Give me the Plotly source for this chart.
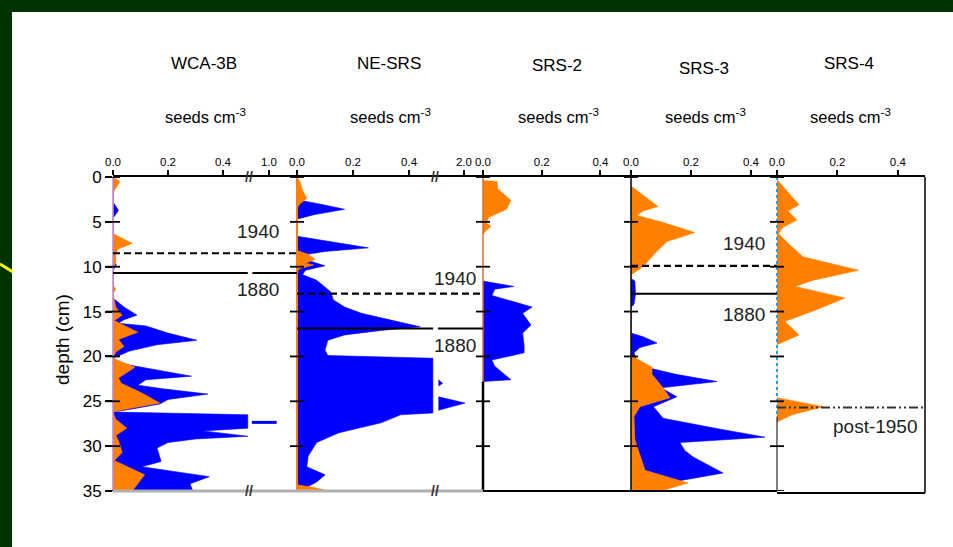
import plotly.graph_objects as go

W, H = 953, 547

# ---------------- data (depth in cm, value in seeds cm^-3, axis units) ----------------
depth_ticks = [0, 5, 10, 15, 20, 25, 30, 35]

titles = ["WCA-3B", "NE-SRS", "SRS-2", "SRS-3", "SRS-4"]

wca_blue_depth = [0, 2.8, 3.7, 4.6, 9.2, 9.8, 10.4, 13.5, 14.5, 15.4, 15.9, 16.3, 16.6, 17.4, 18.2, 18.7, 19.4,
                  20.2, 20.8, 21.4, 22.2, 22.6, 23.2, 23.6, 24.2, 24.8, 25.3, 25.8, 26.2, 26.5, 28.0, 28.3,
                  28.9, 29.2, 29.6, 30.2, 31.7, 32.3, 32.7, 33.4, 34.2, 35]
wca_blue_val = [0, 0, 0.02, 0, 0, 0.012, 0, 0, 0.04, 0.087, 0.04, 0.02, 0.12, 0.2, 0.305, 0.16, 0.06,
                0.0, 0.03, 0.14, 0.285, 0.12, 0.09, 0.18, 0.345, 0.2, 0.17, 0.08, 0.0, 0.49, 0.49, 0.327,
                0.49, 0.3, 0.2, 0.16, 0.175, 0.105, 0.2, 0.35, 0.28, 0.29]
wca_orange_depth = [0, 0.5, 1.5, 2.0, 6.3, 7.4, 8.0, 8.5, 9.6, 10.2, 12.0, 12.5, 13.0, 14.5, 15.4, 16.0, 17.3,
                    18.1, 18.9, 19.5, 20.2, 21.2, 22.4, 23.0, 24.0, 25.2, 25.8, 26.2, 27.0, 28.0, 28.8, 29.4,
                    30.7, 31.6, 33.2, 34.9, 35]
wca_orange_val = [0, 0.025, 0.005, 0, 0, 0.07, 0.02, 0.01, 0.01, 0, 0, 0.01, 0, 0.01, 0.033, 0.005, 0.09,
                  0.02, 0.04, 0.01, 0, 0.08, 0.02, 0.03, 0.1, 0.17, 0.06, 0, 0.01, 0.05, 0.01, 0.02,
                  0.033, 0.005, 0.115, 0.07, 0.07]
# part of the WCA-3B profile drawn beyond the axis break
wca_beyond_depth = [27.35, 27.35]
wca_beyond_val = [0.505, 0.595]

ne_blue_depth = [0, 1.5, 2.6, 3.0, 3.6, 4.2, 4.7, 6.6, 7.0, 7.9, 8.3, 8.7, 9.3, 9.9, 10.4, 10.9, 11.5, 12.8,
                 13.7, 14.5, 15.2, 15.9, 16.7, 17.1, 17.6, 18.2, 19.3, 19.9, 20.2, 26.3, 26.5, 27.4, 28.5,
                 29.6, 31.1, 32.3, 33.2, 34.0, 34.5, 35]
ne_blue_val = [0, 0.005, 0.01, 0.08, 0.17, 0.06, 0.0, 0, 0.08, 0.255, 0.1, 0.02, 0.04, 0.1, 0.03, 0.02, 0.07, 0.12,
               0.13, 0.17, 0.23, 0.33, 0.44, 0.3, 0.17, 0.11, 0.1, 0.11, 0.485, 0.485, 0.37, 0.3, 0.15,
               0.07, 0.04, 0.035, 0.1, 0.07, 0.04, 0.02]
ne_orange_depth = [0, 0.5, 1.5, 2.4, 3.0, 3.5, 8.2, 8.6, 9.2, 9.6, 9.8, 10.2, 10.6, 34.3, 34.6, 34.9, 35]
ne_orange_val = [0, 0.01, 0.02, 0.035, 0.01, 0, 0, 0.04, 0.065, 0.03, 0.06, 0.01, 0, 0, 0.06, 0.1, 0.1]
# NE-SRS parts beyond the axis break (closed outlines starting at the break)
ne_beyond1_depth = [22.6, 23.0, 23.3]
ne_beyond1_val = [0.505, 0.52, 0.505]
ne_beyond2_depth = [24.5, 25.2, 26.0]
ne_beyond2_val = [0.505, 0.6, 0.505]

srs2_orange_depth = [0.4, 0.5, 1.3, 2.6, 3.6, 4.5, 5.1, 5.5, 6.0, 6.4]
srs2_orange_val = [0, 0.048, 0.05, 0.095, 0.08, 0.02, 0.01, 0.027, 0.01, 0]
srs2_blue_depth = [11.6, 12.2, 12.5, 13.2, 14.5, 15.2, 16.5, 17.4, 18.8, 19.6, 20.4, 21.1, 22.6, 22.8]
srs2_blue_val = [0, 0.105, 0.04, 0.03, 0.167, 0.135, 0.163, 0.135, 0.14, 0.14, 0.03, 0.04, 0.095, 0]

srs3_orange_depth = [1.0, 2.0, 3.3, 3.8, 4.3, 5.0, 6.2, 7.2, 8.5, 10.0, 10.9, 19.9, 21.2, 22.0, 23.2, 24.6,
                     25.6, 26.7, 29.3, 31.0, 32.7, 34.1, 34.5, 35]
srs3_orange_val = [0, 0.04, 0.09, 0.04, 0.02, 0.1, 0.213, 0.12, 0.08, 0.04, 0, 0, 0.07, 0.07, 0.1, 0.13,
                   0.03, 0.01, 0.013, 0.03, 0.047, 0.19, 0.15, 0.1]
srs3_blue_depth = [11.3, 11.6, 13.0, 14.2, 14.5, 17.4, 17.8, 18.5, 19.0, 19.6, 20.5, 21.2, 22.0, 22.8, 23.5,
                   24.5, 25.6, 26.9, 28.0, 29.0, 29.6, 30.5, 31.2, 33.0, 34.1, 35]
srs3_blue_val = [0, 0.013, 0.015, 0.01, 0, 0, 0.04, 0.087, 0.03, 0.01, 0.02, 0.05, 0.15, 0.287, 0.1,
                 0.153, 0.075, 0.107, 0.28, 0.447, 0.163, 0.18, 0.207, 0.307, 0.12, 0.1]

srs4_orange_depth = [0.3, 1.5, 3.1, 3.8, 4.8, 5.6, 6.3, 7.5, 8.9, 10.4, 11.5, 12.2, 13.5, 14.8, 16.1, 17.6,
                     18.7, 24.6, 25.6, 26.5, 27.1, 27.3]
srs4_orange_val = [0, 0.03, 0.073, 0.036, 0.066, 0.02, 0.005, 0.04, 0.086, 0.27, 0.12, 0.06, 0.225, 0.13,
                   0.026, 0.073, 0, 0, 0.153, 0.05, 0.01, 0]

# horizon depths
wca_1940, wca_1880 = 8.5, 10.7
ne_1940, ne_1880 = 13.0, 16.9
srs3_1940, srs3_1880 = 9.9, 13.0
srs4_post1950 = 25.7

# axis set-up per panel (ticks; breaks for the first two panels)
x_ranges = [[0, 0.669], [0, 0.664], [0, 0.504], [0, 0.487], [0, 0.49]]
x_tickvals = [[0, 0.2, 0.4, 0.567], [0, 0.2, 0.4, 0.596], [0, 0.2, 0.4], [0, 0.2, 0.4], [0, 0.2, 0.4]]
x_ticktext = [["0.0", "0.2", "0.4", "1.0"], ["0.0", "0.2", "0.4", "2.0"],
              ["0.0", "0.2", "0.4"], ["0.0", "0.2", "0.4"], ["0.0", "0.2", "0.4"]]
breaks = [0.495, 0.494, None, None, None]

# ---------------- layout geometry (pixels) ----------------
def px(x):
    return x / W

def py(y):
    return 1 - y / H

lefts = [113, 297, 483, 631, 777]
rights = [297, 483, 631, 777, 925]
top_px, bot_px = 177, 491

BLUE = "#0000ff"
ORANGE = "#ff8000"
FONT = "Liberation Sans, Arial, sans-serif"

axn = ["x", "x2", "x3", "x4", "x5"]
fig = go.Figure()


def area(xk, depth, val, color):
    fig.add_trace(go.Scatter(x=val, y=depth, xaxis=xk, yaxis="y", mode="lines", fill="tozerox",
                             fillcolor=color, line=dict(color=color, width=0.6),
                             hoverinfo="skip", showlegend=False))


def outline(xk, depth, val, color):
    fig.add_trace(go.Scatter(x=val, y=depth, xaxis=xk, yaxis="y", mode="lines", fill="toself",
                             fillcolor=color, line=dict(color=color, width=0.6),
                             hoverinfo="skip", showlegend=False))


area("x", wca_blue_depth, wca_blue_val, BLUE)
area("x", wca_orange_depth, wca_orange_val, ORANGE)
fig.add_trace(go.Scatter(x=wca_beyond_val, y=wca_beyond_depth, xaxis="x", yaxis="y", mode="lines",
                         line=dict(color=BLUE, width=3), hoverinfo="skip", showlegend=False))
area("x2", ne_blue_depth, ne_blue_val, BLUE)
outline("x2", ne_beyond1_depth, ne_beyond1_val, BLUE)
outline("x2", ne_beyond2_depth, ne_beyond2_val, BLUE)
area("x2", ne_orange_depth, ne_orange_val, ORANGE)
area("x3", srs2_orange_depth, srs2_orange_val, ORANGE)
area("x3", srs2_blue_depth, srs2_blue_val, BLUE)
area("x4", srs3_blue_depth, srs3_blue_val, BLUE)
area("x4", srs3_orange_depth, srs3_orange_val, ORANGE)
area("x5", srs4_orange_depth, srs4_orange_val, ORANGE)

layout = dict(
    width=W, height=H, margin=dict(l=0, r=0, t=0, b=0),
    paper_bgcolor="#003300", plot_bgcolor="white", showlegend=False,
    font=dict(family=FONT, color="black"),
    yaxis=dict(domain=[py(bot_px), py(top_px)], range=[35, 0], anchor="x", tickvals=depth_ticks,
               ticks="outside", ticklen=7, tickwidth=1.5, tickcolor="black",
               tickfont=dict(size=17, family=FONT), showgrid=False, zeroline=False, showline=False,
               automargin=False, fixedrange=True),
)
for i in range(5):
    key = "xaxis" if i == 0 else f"xaxis{i + 1}"
    layout[key] = dict(domain=[px(lefts[i]), px(rights[i])], range=x_ranges[i], anchor="y", side="top",
                       tickvals=x_tickvals[i], ticktext=x_ticktext[i], ticks="outside", ticklen=5,
                       tickwidth=1.5, tickcolor="black", tickfont=dict(size=11.5, family=FONT),
                       showline=True, linecolor="black", linewidth=1.5, showgrid=False,
                       zeroline=False, automargin=False, fixedrange=True)
fig.update_layout(**layout)

shapes = []
# white slide area and yellow connector
shapes.append(dict(type="rect", xref="paper", yref="paper", x0=px(12), x1=1, y0=0, y1=py(12),
                   fillcolor="white", line=dict(width=0), layer="below"))
shapes.append(dict(type="line", xref="paper", yref="paper", x0=0, y0=py(264), x1=px(13), y1=py(272),
                   line=dict(color="#ffff00", width=3)))

# left axis lines of each panel
left_styles = [
    [(0, 35, "#c080d0", 1.5, "solid")],
    [(0, 35, ORANGE, 2, "solid")],
    [(0, 22.8, "#d07030", 1.5, "solid"), (22.8, 35, "black", 2.5, "solid")],
    [(0, 35, "black", 1.5, "solid")],
    [(0, 26.7, "#20a0e0", 2, "dot"), (26.7, 35, "black", 1, "solid")],
]
for i, segs in enumerate(left_styles):
    for d0, d1, col, wd, dash in segs:
        shapes.append(dict(type="line", xref="paper", yref="y", x0=px(lefts[i]), x1=px(lefts[i]),
                           y0=d0, y1=d1, line=dict(color=col, width=wd, dash=dash), layer="above"))
    for t in depth_ticks:
        shapes.append(dict(type="line", xref="paper", yref="y", x0=px(lefts[i] - 7), x1=px(lefts[i] + 7),
                           y0=t, y1=t, line=dict(color="black", width=1.8), layer="above"))

# bottom frame lines
shapes.append(dict(type="line", xref="paper", yref="paper", x0=px(113), x1=px(483), y0=py(bot_px),
                   y1=py(bot_px), line=dict(color="#b0b0b0", width=3)))
shapes.append(dict(type="line", xref="paper", yref="paper", x0=px(483), x1=px(777), y0=py(bot_px),
                   y1=py(bot_px), line=dict(color="black", width=2)))
shapes.append(dict(type="line", xref="paper", yref="paper", x0=px(777), x1=px(925), y0=py(bot_px + 2),
                   y1=py(bot_px + 2), line=dict(color="black", width=2)))
shapes.append(dict(type="line", xref="paper", yref="paper", x0=px(925), x1=px(925), y0=py(bot_px + 2),
                   y1=py(top_px), line=dict(color="black", width=1.5)))

# horizon lines
dash_style = "7px,4px"
shapes.append(dict(type="line", xref="x", yref="y", x0=0, x1=x_ranges[0][1], y0=wca_1940, y1=wca_1940,
                   line=dict(color="black", width=2.2, dash=dash_style)))
shapes.append(dict(type="line", xref="x", yref="y", x0=0, x1=0.49, y0=wca_1880, y1=wca_1880,
                   line=dict(color="black", width=2)))
shapes.append(dict(type="line", xref="x", yref="y", x0=0.507, x1=x_ranges[0][1], y0=wca_1880, y1=wca_1880,
                   line=dict(color="black", width=2)))
shapes.append(dict(type="line", xref="x2", yref="y", x0=0, x1=x_ranges[1][1], y0=ne_1940, y1=ne_1940,
                   line=dict(color="black", width=2.2, dash=dash_style)))
shapes.append(dict(type="line", xref="x2", yref="y", x0=0, x1=0.486, y0=ne_1880, y1=ne_1880,
                   line=dict(color="black", width=2)))
shapes.append(dict(type="line", xref="x2", yref="y", x0=0.503, x1=x_ranges[1][1], y0=ne_1880, y1=ne_1880,
                   line=dict(color="black", width=2)))
shapes.append(dict(type="line", xref="x4", yref="y", x0=0, x1=x_ranges[3][1], y0=srs3_1940, y1=srs3_1940,
                   line=dict(color="black", width=2.2, dash=dash_style)))
shapes.append(dict(type="line", xref="x4", yref="y", x0=0, x1=x_ranges[3][1], y0=srs3_1880, y1=srs3_1880,
                   line=dict(color="black", width=2)))
shapes.append(dict(type="line", xref="x5", yref="y", x0=0, x1=x_ranges[4][1], y0=srs4_post1950,
                   y1=srs4_post1950, line=dict(color="#333333", width=2, dash="9px,3px,2px,3px,2px,3px")))
fig.update_layout(shapes=shapes)

ann = []
centers = [204, 389, 557, 704, 849]
title_y = [63, 63, 65, 68, 63]
for i, t in enumerate(titles):
    ann.append(dict(text=t, x=px(centers[i]), y=py(title_y[i]), xref="paper", yref="paper",
                    showarrow=False, font=dict(size=17, family=FONT), xanchor="center", yanchor="middle"))
    ann.append(dict(text="seeds cm<sup>-3</sup>", x=px(centers[i] + 1), y=py(116), xref="paper",
                    yref="paper", showarrow=False, font=dict(size=16.5, family=FONT),
                    xanchor="center", yanchor="middle"))

date_labels = [("1940", 258, 231), ("1880", 258, 289), ("1940", 455, 278), ("1880", 455, 345),
               ("1940", 744, 244), ("1880", 744, 314), ("post-1950", 875, 426)]
for txt, x, y in date_labels:
    ann.append(dict(text=txt, x=px(x), y=py(y), xref="paper", yref="paper", showarrow=False,
                    font=dict(size=19, family=FONT, color="#222222"), xanchor="center", yanchor="middle"))

ann.append(dict(text="depth (cm)", x=px(62), y=py(340), xref="paper", yref="paper", showarrow=False,
                textangle=-90, font=dict(size=19, family=FONT), xanchor="center", yanchor="middle"))

for i, b in enumerate(breaks):
    if b is None:
        continue
    for yy in (top_px, bot_px):
        ann.append(dict(text="<b>//</b>", x=b, y=py(yy), xref=axn[i], yref="paper", showarrow=False,
                        font=dict(size=14, family="Liberation Sans, Arial, sans-serif", color="#333333"),
                        xanchor="center", yanchor="middle"))
fig.update_layout(annotations=ann)

fig.write_html("out.html")
